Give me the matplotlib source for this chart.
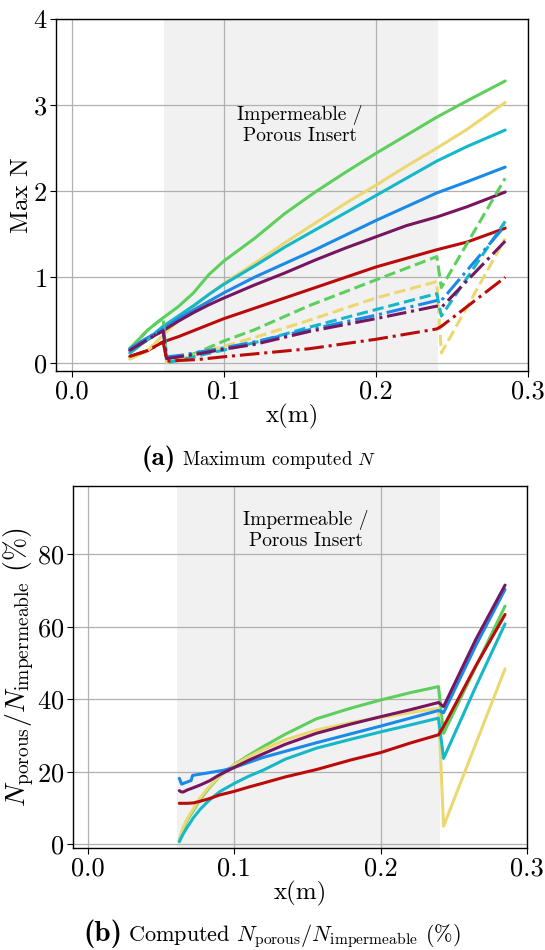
import matplotlib
matplotlib.use("Agg")
import matplotlib.pyplot as plt

plt.rcParams['font.family'] = 'cmr10'
plt.rcParams['mathtext.fontset'] = 'cm'
plt.rcParams['axes.unicode_minus'] = False
plt.rcParams['axes.formatter.use_mathtext'] = True

# ---------------- data ----------------
colors = ['#5ccf5c', '#ecd870', '#14b8c8', '#1a8ae8', '#771560', '#bb0a0a']
names = ['green', 'yellow', 'cyan', 'blue', 'purple', 'red']

# (a) impermeable (solid)
x_solid = [0.038, 0.05, 0.06, 0.07, 0.08, 0.09, 0.10, 0.12, 0.14, 0.16, 0.18, 0.20, 0.22, 0.24, 0.26, 0.285]
solid_green  = [0.17, 0.39, 0.53, 0.66, 0.82, 1.03, 1.19, 1.45, 1.74, 1.99, 2.22, 2.44, 2.65, 2.86, 3.05, 3.28]
solid_yellow = [0.05, 0.15, 0.33, 0.50, 0.66, 0.80, 0.93, 1.16, 1.40, 1.63, 1.86, 2.07, 2.29, 2.50, 2.72, 3.03]
solid_cyan   = [0.12, 0.28, 0.43, 0.55, 0.67, 0.80, 0.92, 1.13, 1.35, 1.55, 1.75, 1.95, 2.15, 2.35, 2.52, 2.71]
solid_blue   = [0.17, 0.30, 0.40, 0.52, 0.62, 0.72, 0.82, 1.00, 1.16, 1.32, 1.49, 1.66, 1.82, 1.98, 2.11, 2.28]
solid_purple = [0.15, 0.28, 0.38, 0.49, 0.59, 0.68, 0.76, 0.91, 1.05, 1.20, 1.34, 1.47, 1.60, 1.70, 1.82, 1.99]
solid_red    = [0.08, 0.15, 0.25, 0.31, 0.38, 0.45, 0.52, 0.64, 0.76, 0.88, 1.00, 1.12, 1.22, 1.32, 1.41, 1.57]

# (a) porous insert (dashed)
x_dash = [0.038, 0.05, 0.06, 0.0624, 0.072, 0.083, 0.10, 0.12, 0.156, 0.20, 0.24, 0.243, 0.285]
dash_green  = [0.17, 0.39, 0.53, 0.02, 0.06, 0.13, 0.26, 0.39, 0.67, 0.97, 1.24, 0.88, 2.15]
dash_yellow = [0.05, 0.15, 0.33, 0.01, 0.05, 0.11, 0.20, 0.30, 0.50, 0.76, 0.95, 0.12, 1.45]
dash_cyan   = [0.12, 0.28, 0.43, 0.01, 0.04, 0.09, 0.155, 0.24, 0.42, 0.625, 0.81, 0.55, 1.65]
dash_blue   = [0.17, 0.30, 0.40, 0.075, 0.095, 0.13, 0.18, 0.25, 0.39, 0.56, 0.73, 0.73, 1.60]
dash_purple = [0.15, 0.28, 0.38, 0.055, 0.08, 0.11, 0.165, 0.22, 0.37, 0.52, 0.665, 0.65, 1.42]
dash_red    = [0.08, 0.15, 0.25, 0.027, 0.035, 0.045, 0.077, 0.11, 0.17, 0.28, 0.40, 0.43, 1.00]
dash_styles = ['--', '--', '--', '-.', '-.', '-.']

# (b) ratio porous / impermeable (%)
x_ratio = [0.0624, 0.0635, 0.065, 0.068, 0.072, 0.077, 0.083, 0.09, 0.10, 0.11, 0.12, 0.135,
           0.156, 0.18, 0.20, 0.22, 0.2395, 0.243, 0.265, 0.285]
ratio_green  = [1.0, 2.5, 4.2, 6.8, 9.3, 12.6, 15.6, 18.8, 22.0, 24.6, 27.0, 30.4,
                34.6, 37.6, 39.8, 41.8, 43.5, 30.6, 49.0, 65.7]
ratio_yellow = [1.0, 2.7, 4.6, 7.2, 9.8, 13.0, 15.9, 18.9, 21.9, 24.2, 26.2, 28.8,
                31.5, 33.6, 35.0, 36.3, 37.5, 5.0, 27.7, 48.4]
ratio_cyan   = [0.7, 1.6, 2.8, 4.8, 7.3, 9.8, 12.2, 14.5, 16.8, 18.8, 20.5, 23.5,
                26.5, 29.0, 31.0, 32.9, 34.8, 23.7, 43.5, 60.8]
ratio_purple = [14.8, 14.5, 14.4, 15.0, 15.6, 16.4, 17.5, 19.2, 21.2, 23.2, 25.0, 27.6,
                30.6, 33.2, 35.2, 37.1, 39.1, 38.0, 56.5, 71.5]
ratio_red    = [11.3, 11.3, 11.3, 11.3, 11.4, 11.9, 12.6, 13.6, 14.6, 15.8, 16.9, 18.6,
                20.6, 23.3, 25.3, 27.9, 30.2, 32.5, 49.2, 63.4]
x_ratio_blue = [0.0624, 0.064, 0.0705, 0.0715, 0.0925, 0.10, 0.12, 0.156, 0.20, 0.2395, 0.243, 0.265, 0.285]
ratio_blue   = [18.2, 16.6, 17.6, 19.0, 20.4, 21.2, 24.0, 28.0, 32.6, 36.9, 36.3, 54.8, 70.3]

insert_start, insert_end = 0.0605, 0.2405
insert_label = "Impermeable /\nPorous Insert"

solids = [solid_green, solid_yellow, solid_cyan, solid_blue, solid_purple, solid_red]
dashes = [dash_green, dash_yellow, dash_cyan, dash_blue, dash_purple, dash_red]
ratios = [(x_ratio, ratio_green), (x_ratio, ratio_yellow), (x_ratio, ratio_cyan),
          (x_ratio_blue, ratio_blue), (x_ratio, ratio_purple), (x_ratio, ratio_red)]

# ---------------- figure ----------------
W, H = 545, 950
fig = plt.figure(figsize=(W / 100, H / 100), dpi=100)

ax1 = fig.add_axes([56.3 / W, 1 - 370.7 / H, (528 - 56.3) / W, (370.7 - 19) / H])
ax2 = fig.add_axes([73.4 / W, 1 - 847.6 / H, (527 - 73.4) / W, (847.6 - 485.8) / H])

lw = 2.2
for ax in (ax1, ax2):
    ax.set_axisbelow(True)
    ax.axvspan(insert_start, insert_end, color='#f1f1f1', zorder=0, lw=0)
    ax.grid(True, color='#b0b0b0', lw=0.9)
    ax.tick_params(labelsize=19, length=4, width=0.8, pad=2.5)
    ax.set_xticks([0.0, 0.1, 0.2, 0.3])
    ax.set_xticklabels(['0.0', '0.1', '0.2', '0.3'])
    for s in ax.spines.values():
        s.set_linewidth(1.0)

for c, ys in zip(colors, solids):
    ax1.plot(x_solid, ys, color=c, lw=lw, solid_capstyle='round')
for c, ys, ls in zip(colors, dashes, dash_styles):
    ax1.plot(x_dash, ys, color=c, lw=lw, ls=ls)

ax1.set_xlim(-0.0103, 0.3)
ax1.set_ylim(-0.085, 4)
ax1.set_yticks([0, 1, 2, 3, 4])
ax1.set_xlabel('x(m)', fontsize=18)
ax1.set_ylabel('Max N', fontsize=18)
ax1.xaxis.set_label_coords(0.5, -0.095)
ax1.yaxis.set_label_coords(-0.05, 0.5)
ax1.text(0.15, 2.77, insert_label, ha='center', va='center', fontsize=14, linespacing=1.1)

for c, (xs, ys) in zip(colors, ratios):
    ax2.plot(xs, ys, color=c, lw=lw, solid_capstyle='round')
ax2.set_xlim(-0.00996, 0.3)
ax2.set_ylim(-0.92, 98.9)
ax2.set_yticks([0, 20, 40, 60, 80])
ax2.set_xlabel('x(m)', fontsize=18)
ax2.set_ylabel(r'$N_{\rm porous}/N_{\rm impermeable}$ (%)', fontsize=20)
ax2.xaxis.set_label_coords(0.5, -0.092)
ax2.yaxis.set_label_coords(-0.082, 0.5)
ax2.text(0.149, 86.7, insert_label, ha='center', va='center', fontsize=14, linespacing=1.1)

renderer = fig.canvas.get_renderer()


def caption(cx, base_y, bold, rest, bsize, rsize, gap=6):
    t1 = fig.text(0, 1 - base_y / H, bold, family='cmb10', fontsize=bsize, va='baseline')
    t2 = fig.text(0, 1 - base_y / H, rest, fontsize=rsize, va='baseline')
    w1 = t1.get_window_extent(renderer).width
    w2 = t2.get_window_extent(renderer).width
    x0 = cx - (w1 + gap + w2) / 2
    t1.set_x(x0 / W)
    t2.set_x((x0 + w1 + gap) / W)


caption(259, 465, '(a)', r'Maximum computed $N$', 19.5, 13.5)
caption(272, 941, '(b)', r'Computed $N_{\rm porous}/N_{\rm impermeable}$ (%)', 21, 16)

fig.savefig('out.png', dpi=100)
